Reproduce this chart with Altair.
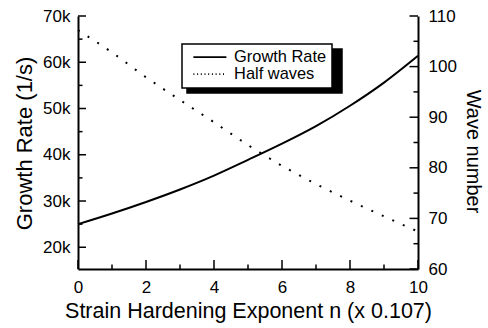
import altair as alt
import pandas as pd

# ---------------- data ----------------
n_values = [0, 1, 2, 3, 4, 5, 6, 7, 8, 9, 10]
growth_rate = [25000, 27300, 29800, 32500, 35500, 38900, 42400, 46200, 50600, 55600, 61400]
half_waves = [107.2, 102.8, 97.9, 93.4, 89.0, 84.5, 80.4, 76.8, 73.5, 70.4, 67.4]
series_names = ["Growth Rate", "Half waves"]

x_major = [0, 2, 4, 6, 8, 10]
x_minor = [1, 3, 5, 7, 9]
gr_major = [20000, 30000, 40000, 50000, 60000, 70000]
gr_minor = [25000, 35000, 45000, 55000, 65000]
wave_major = [60, 70, 80, 90, 100, 110]
wave_minor = [65, 75, 85, 95, 105]

x_title = "Strain Hardening Exponent n (x 0.107)"
left_title = "Growth Rate (1/s)"
right_title = "Wave number"

x_domain = [0, 10]
gr_domain = [15300, 70000]
wave_domain = [60, 110]

FONT = "Liberation Sans"
W, H = 340, 253          # plot area
MAJOR, MINOR = 9, 4.5    # inward tick lengths (px)

df = pd.DataFrame({
    "n": n_values + n_values,
    "value": growth_rate + half_waves,
    "series": [series_names[0]] * len(n_values) + [series_names[1]] * len(n_values),
})
df["series_b"] = df["series"]

xs = alt.Scale(domain=x_domain, nice=False, zero=False)
gs = alt.Scale(domain=gr_domain, nice=False, zero=False)
ws = alt.Scale(domain=wave_domain, nice=False, zero=False)

label_style = dict(labelFont=FONT, labelFontSize=17, labelColor="black",
                   labelFlush=False, grid=False, ticks=False, tickSize=0,
                   domain=True, domainColor="black", domainWidth=2,
                   titleFont=FONT, titleFontWeight="normal", titleColor="black",
                   titleBaseline="alphabetic")

x_main = alt.Axis(orient="bottom", values=x_major, format="d", labelPadding=10,
                  title=x_title, titleFontSize=21.5, titleY=48, **label_style)
gr_main = alt.Axis(orient="left", values=gr_major,
                   labelExpr="format(datum.value / 1000, 'd') + 'k'", labelPadding=8,
                   title=left_title, titleFontSize=22, titleAngle=270,
                   titleX=-47, titleY=127, **label_style)
wave_main = alt.Axis(orient="right", values=wave_major, format="d", labelPadding=10,
                     title=right_title, titleFontSize=20, titleAngle=90,
                     titleX=48.5, titleY=135, **label_style)

base = alt.Chart(df)
g = base.transform_filter(alt.datum.series == series_names[0])
w = base.transform_filter(alt.datum.series == series_names[1])

# every layer that uses x carries the same (shared) x axis definition
X = alt.X("n:Q", scale=xs, axis=x_main)

growth_line = g.mark_line(color="black", strokeWidth=2, interpolate="monotone").encode(
    x=X,
    y=alt.Y("value:Q", scale=gs, axis=gr_main),
)
wave_line = w.mark_line(color="black", strokeWidth=2, strokeDash=[2, 9.5],
                        interpolate="monotone").encode(
    x=X,
    y=alt.Y("value:Q", scale=ws, axis=wave_main),
)


# ----- inward tick marks, positioned through the same scales -----
def x_ticks(values, length):
    return alt.Chart(pd.DataFrame({"n": values})).mark_rule(
        color="black", strokeWidth=1.5).encode(
        x=X, y=alt.value(H), y2=alt.value(H - length))


def y_ticks(values, scale, length, side):
    x0 = 0 if side == "left" else W
    x1 = length if side == "left" else W - length
    return alt.Chart(pd.DataFrame({"t": values})).mark_rule(
        color="black", strokeWidth=1.5).encode(
        y=alt.Y("t:Q", scale=scale, axis=None),
        x=alt.value(x0), x2=alt.value(x1))


tick_layers = [
    x_ticks(x_major, MAJOR), x_ticks(x_minor, MINOR),
    y_ticks(gr_major, gs, 8, "left"), y_ticks(gr_minor, gs, MINOR, "left"),
    y_ticks(wave_major, ws, 8.5, "right"), y_ticks(wave_minor, ws, MINOR, "right"),
]

# ----- legend (white box with a black drop shadow) -----
legend_common = dict(orient="none", title=None, direction="vertical", padding=5,
                     rowPadding=-4, labelFont=FONT, labelFontSize=16.4,
                     symbolType="M-3,0H3", symbolSize=121,
                     symbolStrokeWidth=1.8, symbolOffset=14.7)

main_legend = alt.Legend(legendX=104, legendY=28, fillColor="white",
                         strokeColor="black", labelColor="black", labelOffset=16,
                         labelExpr="datum.label + ' '",
                         symbolStrokeColor="black", **legend_common)
shadow_legend = alt.Legend(legendX=109, legendY=33, fillColor="black",
                           strokeColor="black", labelColor="black", labelOffset=113,
                           labelExpr="''",
                           symbolStrokeColor="black", **legend_common)

legend_layer = base.transform_filter("false").mark_line().encode(
    x=X,
    y=alt.Y("value:Q", scale=gs, axis=None),
    strokeDash=alt.StrokeDash("series:N",
                              scale=alt.Scale(domain=series_names, range=[[1, 0], [1, 2.7]]),
                              legend=main_legend),
    color=alt.Color("series_b:N",
                    scale=alt.Scale(domain=series_names[::-1], range=["black", "black"]),
                    legend=shadow_legend),
)

chart = alt.layer(
    growth_line, wave_line, *tick_layers, legend_layer,
).resolve_scale(y="independent").resolve_axis(y="independent").properties(
    width=W, height=H,
    autosize=alt.AutoSizeParams(type="none"),
    padding={"left": 78, "top": 16, "right": 70, "bottom": 59},
    background="white",
).configure_view(stroke=None).configure_legend(strokeWidth=1.5)

chart.save("out.html", embed_options={"renderer": "svg", "actions": False})
